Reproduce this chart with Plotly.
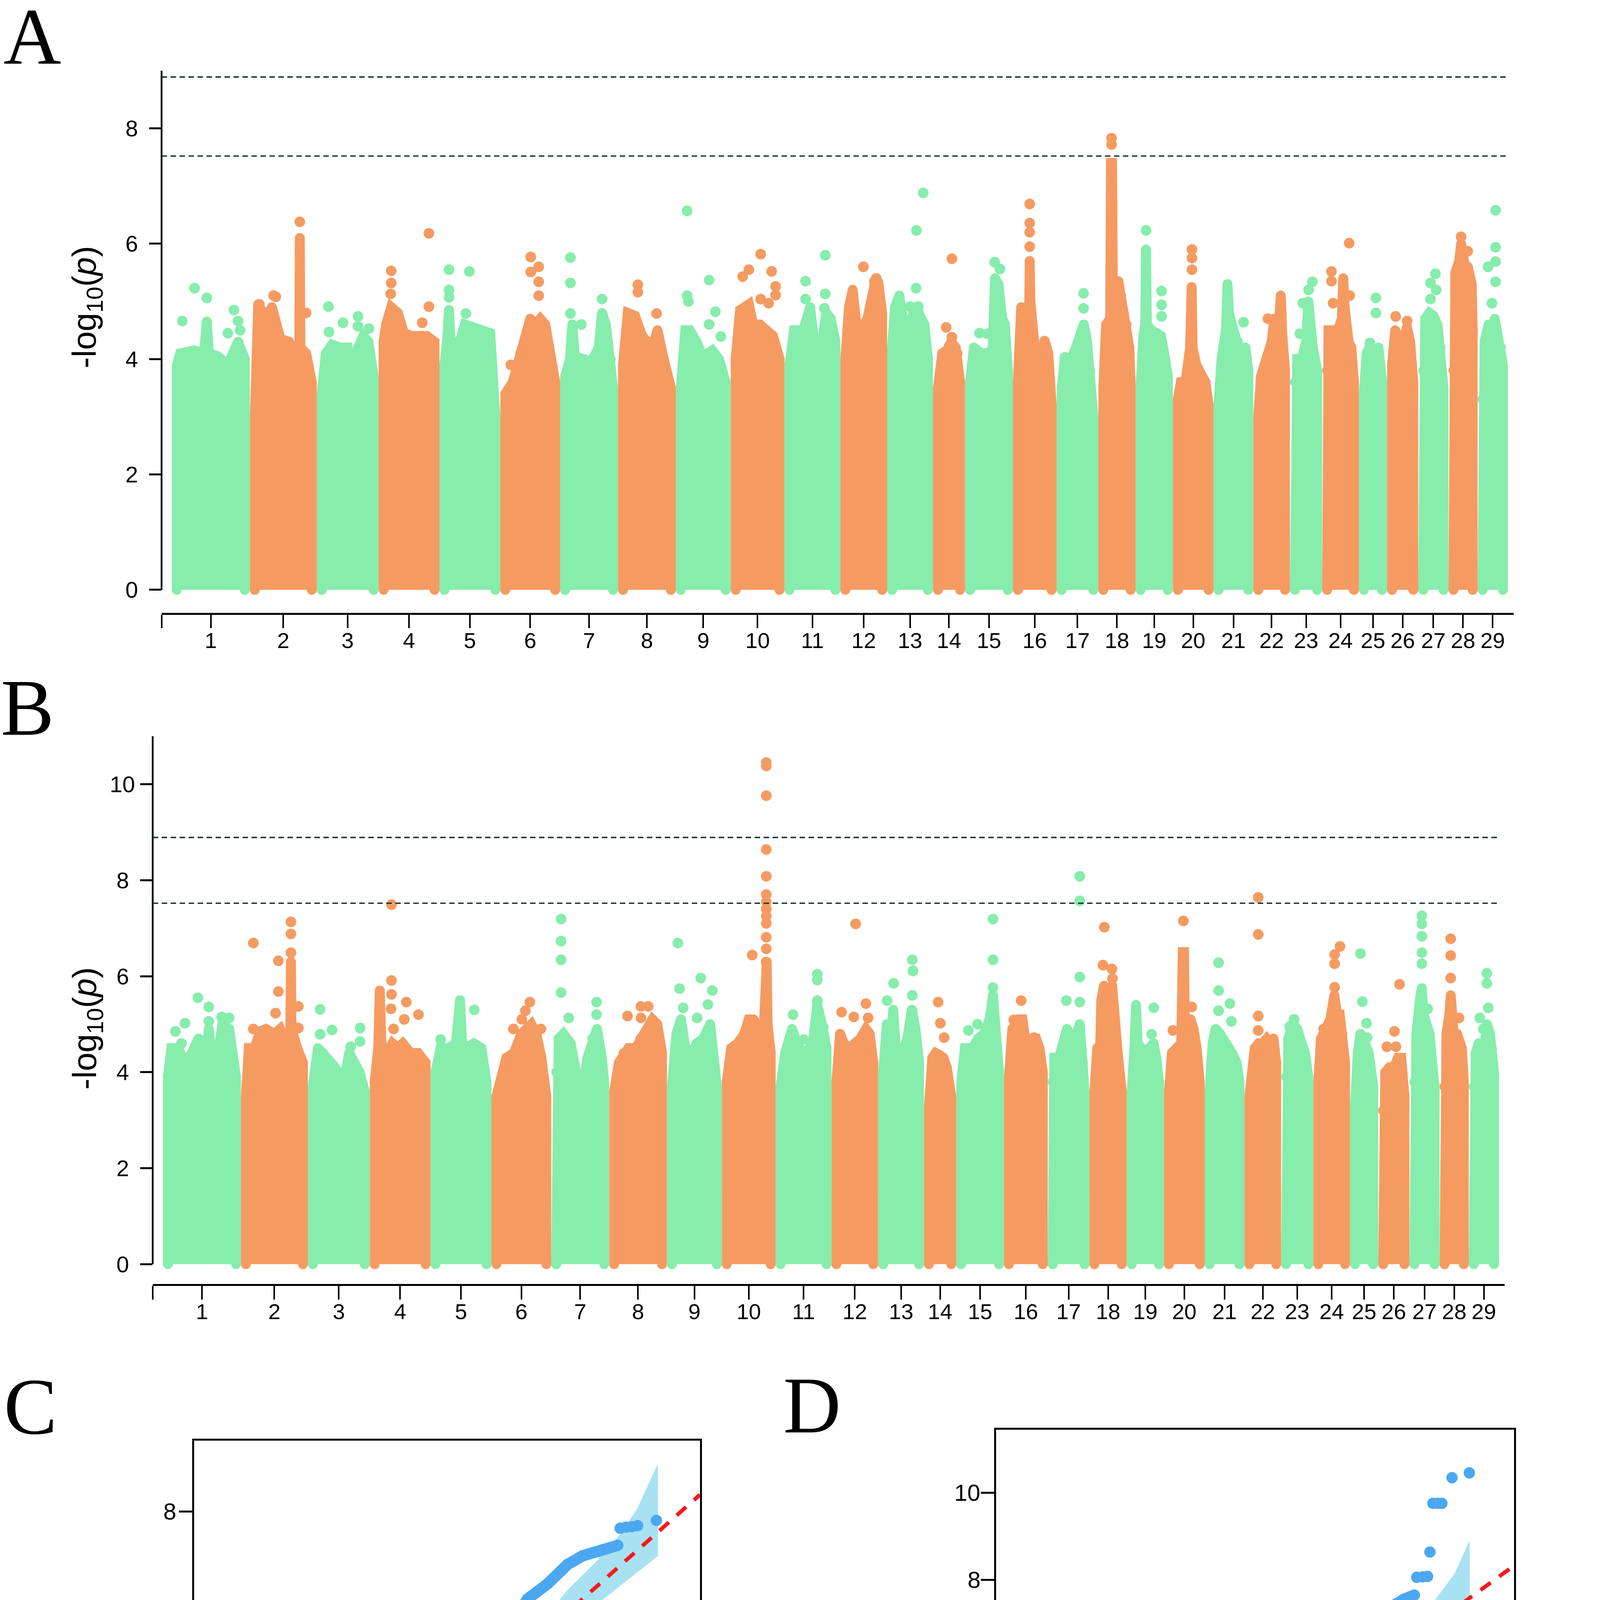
import plotly.graph_objects as go

# ---------------------------------------------------------------- data
CHROMS = [str(i) for i in range(1, 30)]
# chromosome lengths (Mb-like units)
CHROM_LEN = [155, 133, 123, 121, 121, 119, 115, 115, 109, 107, 111, 93, 91, 64, 95,
             87, 83, 74, 74, 81, 79, 73, 64, 73, 56, 62, 60, 58, 60]

SUGGESTIVE = 7.52
GENOMEWIDE = 8.89

# upper outline of the dense SNP block per chromosome: (fraction along chrom, -log10 p)
A_BULK = [
    [(0, 3.9), (0.05, 4.1), (0.25, 4.15), (0.4, 4.1), (0.44, 4.65), (0.47, 4.1), (0.6, 4.05), (0.75, 3.9), (0.9, 4.3), (1, 4.0)],
    [(0, 3.0), (0.06, 4.95), (0.2, 4.7), (0.3, 4.9), (0.45, 4.35), (0.6, 4.3), (0.7, 4.0), (0.78, 4.0), (0.79, 6.1), (0.8, 4.2), (0.9, 4.1), (1, 3.6)],
    [(0, 3.4), (0.08, 4.1), (0.2, 4.25), (0.35, 4.2), (0.5, 4.2), (0.6, 3.6), (0.7, 4.2), (0.8, 4.4), (0.9, 4.3), (1, 3.7)],
    [(0, 4.3), (0.05, 4.6), (0.15, 4.9), (0.28, 4.8), (0.4, 4.45), (0.55, 4.4), (0.7, 4.4), (0.85, 4.4), (1, 4.3)],
    [(0, 3.9), (0.05, 4.3), (0.09, 4.85), (0.12, 4.3), (0.3, 4.3), (0.4, 4.6), (0.55, 4.55), (0.7, 4.5), (0.9, 4.45), (1, 3.0)],
    [(0, 3.4), (0.15, 3.6), (0.3, 4.1), (0.4, 4.3), (0.5, 4.7), (0.6, 4.6), (0.7, 4.7), (0.8, 4.6), (0.9, 4.0), (1, 3.6)],
    [(0, 3.7), (0.1, 4.0), (0.15, 4.6), (0.2, 4.05), (0.4, 4.0), (0.55, 3.95), (0.7, 4.2), (0.77, 4.8), (0.85, 4.6), (0.95, 4.0), (1, 3.5)],
    [(0, 3.9), (0.1, 4.8), (0.25, 4.75), (0.4, 4.4), (0.5, 4.3), (0.65, 4.3), (0.72, 4.5), (0.85, 4.0), (1, 3.5)],
    [(0, 3.5), (0.1, 4.5), (0.2, 4.5), (0.35, 4.3), (0.5, 4.0), (0.6, 4.1), (0.7, 4.15), (0.85, 4.0), (1, 3.6)],
    [(0, 4.0), (0.1, 4.85), (0.3, 4.95), (0.4, 4.6), (0.55, 4.6), (0.7, 4.5), (0.85, 4.4), (1, 4.0)],
    [(0, 3.9), (0.1, 4.5), (0.3, 4.5), (0.45, 4.9), (0.55, 4.2), (0.7, 4.2), (0.8, 4.8), (0.9, 4.7), (1, 4.3)],
    [(0, 4.0), (0.1, 4.9), (0.2, 5.2), (0.3, 4.6), (0.4, 4.4), (0.5, 4.6), (0.6, 4.7), (0.7, 5.0), (0.8, 5.3), (0.9, 5.3), (1, 4.8)],
    [(0, 4.2), (0.08, 4.9), (0.2, 5.1), (0.3, 4.7), (0.5, 4.6), (0.65, 4.9), (0.75, 4.8), (0.9, 4.6), (1, 4.0)],
    [(0, 3.5), (0.2, 4.1), (0.4, 4.15), (0.6, 4.3), (0.8, 4.2), (1, 3.6)],
    [(0, 3.6), (0.1, 4.2), (0.3, 4.1), (0.5, 4.1), (0.6, 4.2), (0.66, 5.4), (0.75, 5.3), (0.85, 4.7), (0.92, 4.6), (1, 3.8)],
    [(0, 3.6), (0.1, 4.9), (0.25, 4.6), (0.34, 5.0), (0.35, 5.7), (0.37, 5.0), (0.5, 4.2), (0.6, 4.1), (0.75, 4.2), (0.8, 4.3), (0.9, 4.1), (1, 3.2)],
    [(0, 3.5), (0.1, 4.0), (0.3, 4.0), (0.45, 4.2), (0.6, 4.45), (0.7, 4.6), (0.8, 4.3), (0.9, 3.8), (1, 3.0)],
    [(0, 3.5), (0.1, 4.6), (0.25, 4.7), (0.28, 7.4), (0.32, 7.4), (0.35, 5.0), (0.45, 4.0), (0.55, 5.35), (0.65, 5.1), (0.75, 4.8), (0.85, 4.6), (0.95, 4.2), (1, 3.6)],
    [(0, 3.5), (0.1, 4.4), (0.17, 4.6), (0.2, 5.9), (0.23, 4.6), (0.4, 4.5), (0.6, 4.45), (0.75, 4.4), (0.9, 4.0), (1, 3.7)],
    [(0, 3.3), (0.1, 3.6), (0.25, 3.6), (0.4, 4.2), (0.45, 5.25), (0.48, 4.2), (0.6, 3.9), (0.75, 3.7), (0.9, 3.6), (1, 3.2)],
    [(0, 3.2), (0.1, 4.0), (0.25, 4.5), (0.3, 5.3), (0.35, 4.8), (0.5, 4.5), (0.65, 4.3), (0.75, 4.1), (0.9, 4.2), (1, 3.8)],
    [(0, 3.0), (0.1, 3.7), (0.3, 4.0), (0.5, 4.3), (0.6, 4.7), (0.7, 4.6), (0.8, 4.8), (0.84, 5.1), (0.9, 4.4), (1, 3.8)],
    [(0, 3.6), (0.1, 4.0), (0.3, 4.0), (0.5, 4.3), (0.6, 5.0), (0.7, 4.2), (0.8, 4.2), (1, 3.8)],
    [(0, 3.8), (0.05, 4.5), (0.2, 4.5), (0.4, 4.5), (0.55, 4.7), (0.6, 5.4), (0.65, 4.9), (0.8, 4.3), (0.9, 4.2), (1, 3.6)],
    [(0, 3.4), (0.15, 4.1), (0.3, 4.2), (0.5, 4.0), (0.7, 4.1), (0.8, 4.2), (1, 3.6)],
    [(0, 3.9), (0.15, 4.5), (0.3, 4.4), (0.5, 4.2), (0.7, 4.55), (0.85, 4.3), (1, 3.6)],
    [(0, 3.8), (0.1, 4.7), (0.3, 4.8), (0.5, 4.75), (0.7, 4.6), (0.85, 4.2), (1, 3.5)],
    [(0, 3.8), (0.1, 5.5), (0.3, 5.7), (0.4, 6.0), (0.5, 5.8), (0.65, 5.5), (0.75, 5.6), (0.85, 5.3), (0.95, 5.3), (1, 4.5)],
    [(0, 3.3), (0.1, 4.3), (0.3, 4.6), (0.45, 4.3), (0.6, 4.7), (0.8, 4.3), (0.9, 4.2), (1, 3.9)],
]

# isolated SNPs above the block: (chromosome, fraction along chrom, -log10 p)
A_HITS = [
    (1, 0.08, 4.66), (1, 0.26, 5.23), (1, 0.44, 5.06), (1, 0.75, 4.45), (1, 0.84, 4.85), (1, 0.9, 4.66), (1, 0.93, 4.5),
    (2, 0.79, 6.38), (2, 0.37, 5.08), (2, 0.33, 5.1), (2, 0.9, 4.8), (2, 0.08, 4.95),
    (3, 0.13, 4.91), (3, 0.14, 4.47), (3, 0.41, 4.63), (3, 0.7, 4.74), (3, 0.7, 4.57), (3, 0.91, 4.53),
    (4, 0.15, 5.53), (4, 0.15, 5.32), (4, 0.14, 5.13), (4, 0.89, 6.18), (4, 0.89, 4.91), (4, 0.76, 4.63),
    (5, 0.09, 5.55), (5, 0.09, 5.2), (5, 0.09, 5.07), (5, 0.49, 5.52), (5, 0.42, 4.79),
    (6, 0.51, 5.77), (6, 0.67, 5.6), (6, 0.51, 5.51), (6, 0.67, 5.34), (6, 0.67, 5.1), (6, 0.11, 3.9),
    (7, 0.11, 5.76), (7, 0.11, 5.32), (7, 0.11, 4.79), (7, 0.34, 4.6), (7, 0.77, 5.04),
    (8, 0.31, 5.29), (8, 0.31, 5.16), (8, 0.7, 4.79),
    (9, 0.14, 6.57), (9, 0.14, 5.1), (9, 0.17, 5.0), (9, 0.63, 5.37), (9, 0.63, 4.6), (9, 0.77, 4.82), (9, 0.89, 4.39),
    (10, 0.57, 5.82), (10, 0.3, 5.55), (10, 0.16, 5.43), (10, 0.82, 5.52), (10, 0.91, 5.26), (10, 0.91, 5.11), (10, 0.57, 5.04), (10, 0.75, 4.97),
    (11, 0.35, 5.35), (11, 0.35, 5.04), (11, 0.78, 5.8), (11, 0.78, 5.13), (11, 0.76, 4.88),
    (12, 0.49, 5.6), (12, 0.79, 5.35), (12, 0.84, 5.4),
    (13, 0.87, 6.88), (13, 0.68, 6.23), (13, 0.67, 5.23), (13, 0.5, 4.91), (13, 0.73, 4.91),
    (14, 0.63, 5.74), (14, 0.37, 4.55), (14, 0.63, 4.38), (14, 0.87, 4.1),
    (15, 0.65, 5.68), (15, 0.79, 5.56), (15, 0.25, 4.45), (15, 0.46, 4.44),
    (16, 0.35, 6.69), (16, 0.35, 6.36), (16, 0.35, 6.2), (16, 0.35, 5.95), (16, 0.79, 4.31),
    (17, 0.69, 5.14), (17, 0.69, 4.88), (17, 0.1, 4.03),
    (18, 0.3, 7.83), (18, 0.3, 7.72),
    (19, 0.2, 6.23), (19, 0.77, 5.18), (19, 0.77, 4.94), (19, 0.77, 4.74),
    (20, 0.46, 5.9), (20, 0.46, 5.75), (20, 0.46, 5.55),
    (21, 0.84, 4.64),
    (22, 0.36, 4.7), (22, 0.6, 4.66),
    (23, 0.22, 4.44), (23, 0.35, 4.97), (23, 0.78, 5.34), (23, 0.61, 5.2),
    (24, 0.16, 5.52), (24, 0.16, 5.35), (24, 0.82, 6.01), (24, 0.84, 5.1), (24, 0.22, 4.97),
    (25, 0.66, 5.06), (25, 0.66, 4.8), (25, 0.33, 4.28),
    (26, 0.17, 4.74), (26, 0.71, 4.66),
    (27, 0.6, 5.48), (27, 0.36, 5.32), (27, 0.36, 5.04), (27, 0.64, 5.2),
    (28, 0.4, 6.12), (28, 0.74, 5.87), (28, 0.71, 5.4),
    (29, 0.64, 6.58), (29, 0.64, 5.94), (29, 0.64, 5.69), (29, 0.64, 5.34), (29, 0.27, 5.6), (29, 0.46, 4.97), (29, 0.64, 4.5),
]

B_BULK = [
    [(0, 3.9), (0.05, 4.5), (0.15, 4.5), (0.25, 4.2), (0.35, 4.4), (0.45, 4.7), (0.55, 4.1), (0.6, 4.9), (0.65, 4.3), (0.75, 4.5), (0.8, 5.0), (0.9, 4.9), (1, 3.9)],
    [(0, 3.5), (0.05, 4.5), (0.15, 4.5), (0.25, 4.85), (0.35, 4.9), (0.5, 4.8), (0.6, 4.9), (0.7, 4.6), (0.78, 4.9), (0.79, 6.3), (0.8, 4.9), (0.9, 4.5), (1, 4.2)],
    [(0, 3.7), (0.1, 4.5), (0.2, 4.4), (0.35, 4.2), (0.5, 4.0), (0.6, 3.8), (0.7, 4.4), (0.8, 4.2), (0.9, 4.0), (1, 3.6)],
    [(0, 3.8), (0.07, 4.5), (0.1, 5.7), (0.13, 4.6), (0.25, 4.4), (0.35, 4.6), (0.45, 4.5), (0.55, 4.6), (0.7, 4.4), (0.85, 4.4), (1, 4.2)],
    [(0, 4.0), (0.1, 4.5), (0.25, 4.5), (0.4, 4.6), (0.48, 5.5), (0.52, 4.6), (0.6, 4.5), (0.75, 4.6), (0.9, 4.5), (1, 3.8)],
    [(0, 3.5), (0.1, 3.9), (0.2, 4.3), (0.35, 4.4), (0.5, 4.8), (0.6, 4.9), (0.7, 5.0), (0.8, 4.8), (0.9, 4.3), (1, 3.5)],
    [(0, 4.0), (0.05, 4.7), (0.15, 4.8), (0.3, 4.6), (0.45, 3.8), (0.55, 3.6), (0.65, 4.3), (0.75, 4.7), (0.85, 4.9), (0.95, 4.3), (1, 3.8)],
    [(0, 3.6), (0.1, 4.2), (0.2, 4.4), (0.3, 4.5), (0.45, 4.5), (0.55, 4.7), (0.7, 4.9), (0.8, 5.1), (0.9, 5.0), (1, 4.4)],
    [(0, 3.7), (0.1, 4.8), (0.2, 5.1), (0.3, 4.5), (0.45, 4.4), (0.55, 4.6), (0.7, 4.7), (0.85, 5.0), (0.92, 4.2), (1, 3.7)],
    [(0, 3.8), (0.1, 4.5), (0.25, 4.6), (0.4, 4.8), (0.5, 5.1), (0.6, 5.1), (0.7, 5.0), (0.85, 5.0), (0.89, 6.3), (0.91, 6.3), (0.93, 5.0), (1, 4.4)],
    [(0, 3.7), (0.1, 4.4), (0.25, 4.9), (0.4, 4.5), (0.55, 4.4), (0.7, 4.6), (0.8, 5.4), (0.9, 5.0), (1, 4.5)],
    [(0, 3.8), (0.1, 4.8), (0.2, 4.6), (0.35, 4.5), (0.5, 4.6), (0.65, 4.7), (0.8, 4.9), (0.9, 4.8), (1, 4.2)],
    [(0, 4.0), (0.1, 5.0), (0.2, 4.5), (0.28, 5.3), (0.35, 4.5), (0.5, 4.5), (0.6, 4.5), (0.7, 4.8), (0.8, 5.3), (0.9, 4.9), (1, 4.2)],
    [(0, 3.3), (0.15, 4.3), (0.3, 4.4), (0.5, 4.35), (0.65, 4.3), (0.8, 4.1), (1, 3.5)],
    [(0, 3.8), (0.1, 4.5), (0.3, 4.5), (0.45, 4.7), (0.6, 4.8), (0.75, 5.1), (0.84, 5.6), (0.9, 5.0), (1, 4.0)],
    [(0, 3.9), (0.1, 4.9), (0.3, 5.1), (0.4, 5.1), (0.5, 4.6), (0.65, 4.7), (0.8, 4.7), (0.9, 4.5), (1, 4.0)],
    [(0, 3.8), (0.05, 4.3), (0.2, 4.3), (0.35, 4.6), (0.45, 4.9), (0.6, 4.7), (0.75, 4.8), (0.85, 5.0), (0.95, 4.2), (1, 3.6)],
    [(0, 3.6), (0.1, 4.5), (0.2, 4.3), (0.25, 5.5), (0.35, 5.8), (0.45, 5.6), (0.55, 5.6), (0.65, 5.8), (0.75, 4.8), (0.85, 4.4), (1, 3.6)],
    [(0, 3.6), (0.1, 4.5), (0.16, 5.4), (0.22, 4.6), (0.35, 4.5), (0.5, 4.4), (0.65, 4.5), (0.8, 4.6), (0.9, 4.3), (1, 3.8)],
    [(0, 3.6), (0.1, 4.4), (0.25, 4.5), (0.4, 4.6), (0.45, 6.5), (0.49, 6.5), (0.52, 4.8), (0.6, 4.6), (0.7, 5.1), (0.8, 4.9), (0.9, 4.5), (1, 3.8)],
    [(0, 3.6), (0.1, 4.6), (0.2, 4.9), (0.35, 4.8), (0.5, 4.6), (0.65, 4.5), (0.75, 4.4), (0.9, 4.2), (1, 3.8)],
    [(0, 3.5), (0.1, 4.0), (0.2, 4.5), (0.35, 4.6), (0.5, 4.6), (0.65, 4.7), (0.8, 4.6), (0.9, 4.7), (1, 4.2)],
    [(0, 3.9), (0.1, 4.7), (0.3, 5.0), (0.5, 4.9), (0.7, 4.6), (0.85, 4.4), (1, 3.9)],
    [(0, 3.8), (0.1, 4.7), (0.3, 4.9), (0.45, 5.1), (0.6, 5.6), (0.7, 5.2), (0.8, 5.2), (0.9, 4.8), (1, 4.2)],
    [(0, 3.3), (0.15, 4.4), (0.3, 4.8), (0.45, 4.7), (0.6, 4.5), (0.75, 4.4), (1, 3.7)],
    [(0, 3.2), (0.1, 4.0), (0.3, 4.1), (0.5, 4.1), (0.7, 4.3), (0.85, 4.3), (1, 3.5)],
    [(0, 3.8), (0.1, 4.8), (0.3, 5.6), (0.37, 5.75), (0.45, 5.2), (0.6, 5.0), (0.75, 4.8), (0.9, 4.1), (1, 3.7)],
    [(0, 3.7), (0.1, 4.8), (0.25, 5.2), (0.32, 5.6), (0.4, 5.2), (0.5, 4.6), (0.65, 4.8), (0.8, 4.6), (0.9, 4.5), (1, 3.8)],
    [(0, 3.7), (0.1, 4.4), (0.25, 4.6), (0.4, 4.4), (0.55, 4.6), (0.65, 5.0), (0.8, 4.8), (0.9, 4.5), (1, 4.0)],
]

B_HITS = [
    (1, 0.11, 4.85), (1, 0.25, 5.02), (1, 0.44, 5.55), (1, 0.6, 5.36), (1, 0.6, 5.06), (1, 0.79, 5.15), (1, 0.9, 5.13), (1, 0.2, 4.6),
    (2, 0.13, 6.69), (2, 0.79, 7.13), (2, 0.79, 6.88), (2, 0.79, 6.49), (2, 0.57, 6.32), (2, 0.57, 5.68), (2, 0.52, 5.23), (2, 0.13, 4.9), (2, 0.92, 5.37), (2, 0.92, 4.92),
    (3, 0.14, 5.31), (3, 0.14, 4.79), (3, 0.37, 4.88), (3, 0.91, 4.92), (3, 0.91, 4.64), (3, 0.73, 4.53),
    (4, 0.33, 7.49), (4, 0.33, 5.91), (4, 0.33, 5.62), (4, 0.32, 5.32), (4, 0.62, 5.46), (4, 0.86, 5.2), (4, 0.37, 4.9), (4, 0.58, 5.1),
    (5, 0.76, 5.3), (5, 0.1, 4.68),
    (6, 0.67, 5.46), (6, 0.58, 5.28), (6, 0.51, 5.1), (6, 0.34, 4.9), (6, 0.89, 4.9),
    (7, 0.1, 7.19), (7, 0.1, 6.73), (7, 0.1, 6.34), (7, 0.1, 5.66), (7, 0.84, 5.46), (7, 0.84, 5.2), (7, 0.26, 5.13),
    (8, 0.56, 5.37), (8, 0.71, 5.37), (8, 0.56, 5.13), (8, 0.28, 5.17),
    (9, 0.13, 6.69), (9, 0.64, 5.96), (9, 0.17, 5.74), (9, 0.9, 5.7), (9, 0.8, 5.41), (9, 0.25, 5.34), (9, 0.56, 5.13),
    (10, 0.9, 10.45), (10, 0.9, 10.38), (10, 0.9, 9.76), (10, 0.9, 8.64), (10, 0.9, 8.08), (10, 0.9, 7.7), (10, 0.9, 7.55),
    (10, 0.9, 7.4), (10, 0.9, 7.25), (10, 0.9, 7.1), (10, 0.9, 6.81), (10, 0.9, 6.57), (10, 0.58, 6.44),
    (11, 0.8, 6.04), (11, 0.8, 5.92), (11, 0.8, 5.49), (11, 0.27, 5.2), (11, 0.5, 4.68), (11, 0.93, 4.94),
    (12, 0.52, 7.09), (12, 0.8, 5.43), (12, 0.86, 5.13), (12, 0.47, 5.15), (12, 0.14, 5.25),
    (13, 0.29, 5.85), (13, 0.11, 5.49), (13, 0.81, 6.34), (13, 0.83, 6.11), (13, 0.81, 5.6), (13, 0.81, 5.28),
    (14, 0.41, 5.46), (14, 0.51, 5.02), (14, 0.68, 4.72),
    (15, 0.84, 7.19), (15, 0.84, 6.34), (15, 0.84, 5.76), (15, 0.43, 5.0), (15, 0.19, 4.87),
    (16, 0.36, 5.49), (16, 0.14, 5.09), (16, 0.74, 4.72),
    (17, 0.85, 8.08), (17, 0.85, 7.57), (17, 0.85, 5.98), (17, 0.85, 5.46), (17, 0.43, 5.49), (17, 0.85, 4.9),
    (18, 0.36, 7.02), (18, 0.31, 6.23), (18, 0.64, 6.15), (18, 0.66, 5.95), (18, 0.7, 4.98),
    (19, 0.81, 5.34), (19, 0.73, 4.79),
    (20, 0.47, 7.15), (20, 0.13, 4.87), (20, 0.74, 5.36),
    (21, 0.3, 6.28), (21, 0.3, 5.7), (21, 0.3, 5.28), (21, 0.68, 5.43), (21, 0.73, 5.06),
    (22, 0.33, 7.64), (22, 0.33, 6.87), (22, 0.33, 5.17), (22, 0.33, 4.87),
    (23, 0.36, 5.1), (23, 0.16, 4.95),
    (24, 0.81, 6.62), (24, 0.61, 6.45), (24, 0.61, 6.26), (24, 0.61, 5.77), (24, 0.2, 4.9),
    (25, 0.3, 6.47), (25, 0.4, 5.47), (25, 0.63, 5.02), (25, 0.66, 4.72),
    (26, 0.77, 5.83), (26, 0.53, 4.85), (26, 0.17, 4.53), (26, 0.6, 4.53),
    (27, 0.37, 7.26), (27, 0.37, 7.09), (27, 0.37, 6.83), (27, 0.37, 6.49), (27, 0.37, 6.26), (27, 0.66, 5.32),
    (28, 0.32, 6.78), (28, 0.32, 6.43), (28, 0.32, 5.96), (28, 0.75, 5.13),
    (29, 0.65, 6.06), (29, 0.65, 5.85), (29, 0.72, 5.34), (29, 0.3, 5.13), (29, 0.47, 4.9),
]

# QQ plot C
C_EXP = [0, 1, 2, 3, 4.02, 4.53, 4.79, 5.04, 5.38, 5.72, 6.06, 6.32, 6.58, 6.92]
C_OBS = [0, 1, 2, 3, 4.04, 4.74, 5.32, 5.74, 6.32, 6.61, 6.98, 7.15, 7.23, 7.35]
C_TOP_EXP = [6.96, 7.06, 7.16, 7.26, 7.58]
C_TOP_OBS = [7.68, 7.70, 7.71, 7.73, 7.83]
C_CI_EXP = [4.2, 4.87, 5.5, 6.06, 6.58, 7.0, 7.26, 7.6, 7.6, 6.58, 5.72, 4.87, 4.2]
C_CI_OBS = [4.25, 4.95, 5.7, 6.48, 7.06, 7.6, 8.06, 8.89, 7.15, 6.24, 5.49, 4.66, 4.1]

# QQ plot D
D_EXP = [0, 1, 2, 3, 4.03, 4.54, 5.04, 5.29, 5.54, 5.76, 5.94, 6.08, 6.3, 6.48, 6.66]
D_OBS = [0, 1, 2, 3, 4.09, 4.83, 5.47, 5.62, 6.06, 6.41, 6.71, 7.05, 7.4, 7.55, 7.65]
D_TOP_EXP = [6.7, 6.8, 6.88, 6.92, 6.97, 7.05, 7.12, 7.29, 7.58]
D_TOP_OBS = [8.06, 8.07, 8.08, 8.64, 9.76, 9.76, 9.76, 10.35, 10.46]
D_CI_EXP = [4.1, 4.39, 5.47, 6.19, 6.91, 7.34, 7.58, 7.58, 6.91, 6.19, 5.47, 4.39, 4.1]
D_CI_OBS = [4.2, 4.58, 5.77, 6.56, 7.35, 8.14, 8.88, 7.15, 6.66, 6.16, 5.47, 4.38, 4.1]

CAPTION_LINES = [
    "Supplementary Figure S4. Conditional GWAS analysis of coat color variation in Lufeng cattle.",
    "(A, C) Manhattan and QQ plots of conditional GWAS after including the lead SNP on chromosome",
    "10 (chr10:100210594) as a covariate, showing that the chr10 association signal was eliminated whereas",
    "the chr18 signal became more pronounced. (B, D) Manhattan and QQ plots of GWAS after additionally",
    "including the PC1 of black/yellow pigmentation scores as a covariate, resulting in the disappearance of the",
    "chr18 signal and further enhancement of the chr10 association signal.",
]

# ---------------------------------------------------------------- page geometry
# positions below are in pixels of the 4511 x 6586 target; the page is laid out
# in css pixels (device ratio 1.1) inside the default 8px body margin
K = 1 / 1.1
OFF = 8
FW, FH = 4083, 5969

GREEN = "#86EDAC"
ORANGE = "#F59B62"
QQ_BLUE = "#4BA8F0"
CI_BLUE = "#A8E2F2"
SANS = "Liberation Sans"
SERIF = "Liberation Serif"
BULK_STROKE = 28
DOT = 30


def fx(r):
    return (r * K - OFF) / FW


def fy(r):
    return 1 - (r * K - OFF) / FH


def sz(r):
    return r * K


starts = []
acc = 0
for n in CHROM_LEN:
    starts.append(acc)
    acc += n
total = acc
mids = [s + n / 2 for s, n in zip(starts, CHROM_LEN)]

MAN = {
    "A": dict(left=455, right=4262, d0=484, d1=4246, top=199, bottom=1726, y0=1661, ytop=9, ticks=[0, 2, 4, 6, 8],
              labx=371, bulk=A_BULK, hits=A_HITS, x="x", y="y"),
    "B": dict(left=430, right=4237, d0=459, d1=4221, top=2073, bottom=3616, y0=3560, ytop=11, ticks=[0, 2, 4, 6, 8, 10],
              labx=345, bulk=B_BULK, hits=B_HITS, x="x2", y="y2"),
}

fig = go.Figure()
layout = {}
shapes = []
ann = []


def note(text, px, py, size, family=SANS, xanchor="center", angle=0, yref="paper", yval=None):
    ann.append(dict(text=text, x=fx(px), y=fy(py) if yval is None else yval, xref="paper", yref=yref,
                    showarrow=False, xanchor=xanchor, yanchor="middle", textangle=angle,
                    font=dict(family=family, size=sz(size), color="black")))


for key, p in MAN.items():
    ppu = (p["d1"] - p["d0"]) / total
    inset = BULK_STROKE / 2 / ppu
    xr = [(p["left"] - p["d0"]) / ppu, (p["right"] - p["d0"]) / ppu]
    ppy = (p["y0"] - p["top"]) / p["ytop"]
    yr = [(p["y0"] - p["bottom"]) / ppy, p["ytop"]]

    def pos(ci, f):
        s, n = starts[ci], CHROM_LEN[ci]
        return s + inset + f * (n - 2 * inset)

    for col, parity in ((GREEN, 0), (ORANGE, 1)):
        bx, by = [], []
        for ci, prof in enumerate(p["bulk"]):
            if ci % 2 != parity:
                continue
            bx += [pos(ci, 0)] + [pos(ci, f) for f, _ in prof] + [pos(ci, 1), None]
            by += [0] + [h for _, h in prof] + [0, None]
        # the stroke and round vertex markers mimic the overlapping SNP dots
        fig.add_trace(go.Scatter(x=bx, y=by, xaxis=p["x"], yaxis=p["y"], mode="lines+markers", fill="toself",
                                 fillcolor=col, line=dict(color=col, width=sz(BULK_STROKE)),
                                 marker=dict(color=col, size=sz(BULK_STROKE), line=dict(width=0)),
                                 hoverinfo="skip"))
        hx = [pos(c - 1, f) for c, f, v in p["hits"] if (c - 1) % 2 == parity]
        hy = [v for c, f, v in p["hits"] if (c - 1) % 2 == parity]
        fig.add_trace(go.Scatter(x=hx, y=hy, xaxis=p["x"], yaxis=p["y"], mode="markers",
                                 marker=dict(color=col, size=sz(DOT), line=dict(width=0))))

    sfx = "" if key == "A" else "2"
    layout["xaxis" + sfx] = dict(domain=[fx(p["left"]), fx(p["right"])], range=xr, anchor=p["y"],
                                 showgrid=False, zeroline=False, showline=True, linecolor="black", linewidth=sz(5),
                                 ticks="outside", ticklen=sz(38), tickwidth=sz(4), tickcolor="black",
                                 tickvals=[xr[0]] + mids, ticktext=[""] + CHROMS, tickangle=0,
                                 ticklabelstandoff=-17,
                                 tickfont=dict(family=SANS, size=sz(62), color="black"))
    layout["yaxis" + sfx] = dict(domain=[fy(p["bottom"]), fy(p["top"])], range=yr, anchor=p["x"],
                                 showgrid=False, zeroline=False, showline=False, showticklabels=False,
                                 ticks="outside", ticklen=sz(34), tickwidth=sz(5), tickcolor="black",
                                 tickvals=p["ticks"])
    # R-style centred tick labels on the value axis
    for t in p["ticks"]:
        note(str(t), p["labx"], 0, 64, yref=p["y"], yval=t)
    xd = p["x"] + " domain"
    shapes.append(dict(type="line", xref=xd, yref=p["y"], x0=0, x1=0, y0=0, y1=p["ytop"],
                       line=dict(color="black", width=sz(5))))
    for thr in (SUGGESTIVE, GENOMEWIDE):
        shapes.append(dict(type="line", xref=xd, yref=p["y"], x0=0, x1=0.996, y0=thr, y1=thr,
                           line=dict(color="#1f3333", width=sz(4),
                                     dash="%dpx,%dpx" % (sz(16), sz(10)))))

# QQ panels
QQ = {
    "C": dict(left=547, right=1971, top=4057, bottom=5481, x0=600, xppu=164.7, y0=5427, yppu=146.3,
              yticks=[0, 2, 4, 6, 8], labr=498, exp=C_EXP, obs=C_OBS, texp=C_TOP_EXP, tobs=C_TOP_OBS,
              cie=C_CI_EXP, cio=C_CI_OBS, x="x3", y="y3"),
    "D": dict(left=2805, right=4264, top=4026, bottom=5483, x0=2862, xppu=168.3, y0=5429, yppu=122.5,
              yticks=[0, 2, 4, 6, 8, 10], labr=2763, exp=D_EXP, obs=D_OBS, texp=D_TOP_EXP, tobs=D_TOP_OBS,
              cie=D_CI_EXP, cio=D_CI_OBS, x="x4", y="y4"),
}

for key, q in QQ.items():
    xr = [(q["left"] - q["x0"]) / q["xppu"], (q["right"] - q["x0"]) / q["xppu"]]
    yr = [(q["y0"] - q["bottom"]) / q["yppu"], (q["y0"] - q["top"]) / q["yppu"]]
    fig.add_trace(go.Scatter(x=q["cie"], y=q["cio"], xaxis=q["x"], yaxis=q["y"], mode="lines", fill="toself",
                             fillcolor=CI_BLUE, line=dict(color=CI_BLUE, width=2), hoverinfo="skip"))
    fig.add_trace(go.Scatter(x=[xr[0], xr[1]], y=[xr[0], xr[1]], xaxis=q["x"], yaxis=q["y"], mode="lines",
                             line=dict(color="#F21B1B", width=sz(11), dash="%dpx,%dpx" % (sz(36), sz(30)))))
    fig.add_trace(go.Scatter(x=q["exp"], y=q["obs"], xaxis=q["x"], yaxis=q["y"], mode="lines+markers",
                             line=dict(color=QQ_BLUE, width=sz(32)), marker=dict(color=QQ_BLUE, size=sz(32))))
    fig.add_trace(go.Scatter(x=q["texp"], y=q["tobs"], xaxis=q["x"], yaxis=q["y"], mode="markers",
                             marker=dict(color=QQ_BLUE, size=sz(32), line=dict(width=0))))
    n = "3" if key == "C" else "4"
    common = dict(showgrid=False, zeroline=False, showline=True, mirror=True, linecolor="black", linewidth=sz(5),
                  ticks="outside", ticklen=sz(38), tickwidth=sz(5), tickcolor="black")
    layout["xaxis" + n] = dict(domain=[fx(q["left"]), fx(q["right"])], range=xr, anchor=q["y"],
                               tickvals=list(range(9)), ticklabelstandoff=-6,
                               tickfont=dict(family=SANS, size=sz(66), color="black"), **common)
    layout["yaxis" + n] = dict(domain=[fy(q["bottom"]), fy(q["top"])], range=yr, anchor=q["x"],
                               tickvals=q["yticks"], showticklabels=False, **common)
    for t in q["yticks"]:
        note(str(t), q["labr"], 0, 66, xanchor="right", yref=q["y"], yval=t)

# ---------------------------------------------------------------- text
for letter, px, py in (("A", 8, 103), ("B", 0, 1993), ("C", 9, 3961), ("D", 2203, 3958)):
    note(letter, px, py, 225, SERIF, xanchor="left")

ylab = "-log<sub>10</sub>(<i>p</i>)"
note(ylab, 245, 865, 94, angle=-90)
note(ylab, 245, 2896, 94, angle=-90)

qq_y = "Observed\u00a0\u00a0\u00a0\u2212log<sub>10</sub>(<i>p</i>)"
qq_x = "Expected\u00a0\u00a0\u00a0\u2212log<sub>10</sub>(<i>p</i>)"
note(qq_y, 302, 4812, 62, angle=-90)
note(qq_y, 2632, 4813, 62, angle=-90)
note(qq_x, 1287, 5679, 62)
note(qq_x, 3589, 5655, 62)

CAP_SIZE = 95
for i, line in enumerate(CAPTION_LINES):
    baseline = 5953 + i * 116.5
    note(line, 224, baseline - 0.32 * CAP_SIZE, CAP_SIZE, SERIF, xanchor="left")

fig.update_layout(width=FW, height=FH, margin=dict(l=0, r=0, t=0, b=0),
                  paper_bgcolor="white", plot_bgcolor="white", showlegend=False,
                  shapes=shapes, annotations=ann, **layout)

fig.write_html("out.html")
